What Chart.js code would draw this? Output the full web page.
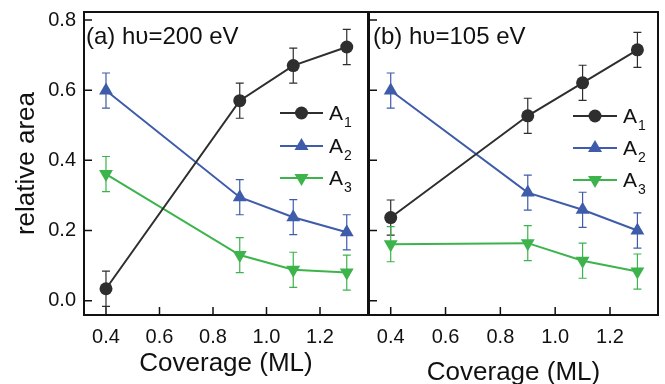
<!DOCTYPE html>
<html>
<head>
<meta charset="utf-8">
<script src="https://cdn.jsdelivr.net/npm/chart.js@4"></script>
<style>
  body { margin: 0; width: 665px; height: 384px; overflow: hidden; background: #fff; position: relative; }
  canvas { position: absolute; top: 0; }
  #left { left: 0; }
  #right { left: 356px; }
</style>
</head>
<body>
<canvas id="left" width="380" height="384"></canvas>
<canvas id="right" width="320" height="384"></canvas>
<script>
// Data
const coverage = [0.4, 0.9, 1.1, 1.3];
const xTicks = [0.4, 0.6, 0.8, 1.0, 1.2];
const yTicks = [0.0, 0.2, 0.4, 0.6, 0.8];

// (a) hv = 200 eV
const a1_200 = [0.034, 0.570, 0.670, 0.723];
const a2_200 = [0.599, 0.295, 0.238, 0.195];
const a3_200 = [0.361, 0.130, 0.088, 0.080];
// (b) hv = 105 eV
const a1_105 = [0.237, 0.527, 0.621, 0.715];
const a2_105 = [0.599, 0.308, 0.259, 0.200];
const a3_105 = [0.161, 0.164, 0.114, 0.083];
// error bars (same for every point)
const errBar = [0.05, 0.05, 0.05, 0.05];

const seriesNames = ['1', '2', '3'];
const colors = ['#2e2e2e', '#3e5ca9', '#3cb44b'];

Chart.defaults.font.family = '"Liberation Sans", Arial, sans-serif';
Chart.defaults.color = '#111';

function toPoints(vals) {
    return coverage.map((x, i) => ({ x: x, y: vals[i] }));
}

function drawMarker(ctx, style, x, y, color) {
    ctx.fillStyle = color;
    ctx.beginPath();
    if (style === 'circle') {
        ctx.arc(x, y, 6.5, 0, Math.PI * 2);
    } else if (style === 'up') {
        ctx.moveTo(x, y - 8);
        ctx.lineTo(x + 7, y + 4);
        ctx.lineTo(x - 7, y + 4);
    } else {
        ctx.moveTo(x, y + 8);
        ctx.lineTo(x + 7, y - 4);
        ctx.lineTo(x - 7, y - 4);
    }
    ctx.closePath();
    ctx.fill();
}

// frame, inward ticks, error bars, panel label and legend
const panelPlugin = {
    id: 'panel',
    beforeDatasetsDraw(chart, args, opts) {
        const ctx = chart.ctx;
        const xs = chart.scales.x, ys = chart.scales.y;
        ctx.save();
        chart.data.datasets.forEach((ds, i) => {
            ctx.strokeStyle = colors[i];
            ctx.lineWidth = 1.2;
            ds.data.forEach((p, j) => {
                const px = xs.getPixelForValue(p.x);
                const top = ys.getPixelForValue(p.y + errBar[j]);
                const bot = ys.getPixelForValue(p.y - errBar[j]);
                ctx.beginPath();
                ctx.moveTo(px, top); ctx.lineTo(px, bot);
                ctx.moveTo(px - 4, top); ctx.lineTo(px + 4, top);
                ctx.moveTo(px - 4, bot); ctx.lineTo(px + 4, bot);
                ctx.stroke();
            });
        });
        ctx.restore();
    },
    afterDraw(chart, args, opts) {
        const ctx = chart.ctx;
        const a = chart.chartArea;
        const xs = chart.scales.x, ys = chart.scales.y;
        ctx.save();
        ctx.strokeStyle = '#111';
        ctx.lineWidth = 2;
        ctx.strokeRect(a.left, a.top, a.right - a.left, a.bottom - a.top);
        ctx.lineWidth = 1.5;
        ctx.beginPath();
        xTicks.forEach(v => {
            const px = xs.getPixelForValue(v);
            ctx.moveTo(px, a.bottom); ctx.lineTo(px, a.bottom - 8);
        });
        yTicks.forEach(v => {
            const py = ys.getPixelForValue(v);
            ctx.moveTo(a.left, py); ctx.lineTo(a.left + 8, py);
        });
        ctx.stroke();

        // panel label
        ctx.fillStyle = '#111';
        ctx.font = '24px "Liberation Sans"';
        ctx.textBaseline = 'alphabetic';
        ctx.fillText(opts.label, opts.labelX, 44);

        // legend
        const styles = ['circle', 'up', 'down'];
        opts.legendRows.forEach((ry, i) => {
            ctx.strokeStyle = colors[i];
            ctx.lineWidth = 2;
            ctx.beginPath();
            ctx.moveTo(opts.legendX0, ry); ctx.lineTo(opts.legendX1, ry);
            ctx.stroke();
            drawMarker(ctx, styles[i], (opts.legendX0 + opts.legendX1) / 2, ry, colors[i]);
            ctx.fillStyle = '#111';
            ctx.font = '21px "Liberation Sans"';
            ctx.fillText('A', opts.legendX1 + 6, ry + 7);
            const w = ctx.measureText('A').width;
            ctx.font = '14px "Liberation Sans"';
            ctx.fillText(seriesNames[i], opts.legendX1 + 7 + w, ry + 14);
        });
        ctx.restore();
    }
};

function makePanel(id, series, cfg) {
    const canvas = document.getElementById(id);
    const styles = ['circle', 'triangle', 'triangle'];
    const radii = [6.5, 8, 8];
    const rotations = [0, 0, 180];
    return new Chart(canvas, {
        type: 'line',
        data: {
            datasets: series.map((vals, i) => ({
                label: 'A' + seriesNames[i],
                data: toPoints(vals),
                borderColor: colors[i],
                backgroundColor: colors[i],
                borderWidth: 2,
                pointStyle: styles[i],
                pointRadius: radii[i],
                pointRotation: rotations[i],
                pointBackgroundColor: colors[i],
                pointBorderColor: colors[i],
                pointBorderWidth: 0,
                tension: 0
            }))
        },
        plugins: [panelPlugin],
        options: {
            responsive: false,
            animation: false,
            events: [],
            layout: { padding: cfg.padding },
            plugins: {
                legend: { display: false },
                tooltip: { enabled: false },
                panel: cfg.panel
            },
            scales: {
                x: {
                    type: 'linear',
                    min: cfg.xMin,
                    max: cfg.xMax,
                    grid: { display: false, drawTicks: false },
                    border: { display: false },
                    afterBuildTicks: s => { s.ticks = xTicks.map(v => ({ value: v })); },
                    afterFit: s => { s.height = 69; s.paddingLeft = 0; s.paddingRight = 0; },
                    ticks: {
                        font: { size: 20 },
                        padding: 10,
                        callback: v => v.toFixed(1)
                    },
                    title: {
                        display: true,
                        text: 'Coverage (ML)',
                        font: { size: 26, lineHeight: 1 },
                        padding: { top: 0, bottom: cfg.titleBottom }
                    }
                },
                y: {
                    type: 'linear',
                    display: cfg.showY,
                    min: -0.0408,
                    max: 0.8228,
                    grid: { display: false, drawTicks: false },
                    border: { display: false },
                    afterBuildTicks: s => { s.ticks = yTicks.map(v => ({ value: v })); },
                    afterFit: s => { s.width = cfg.yWidth; s.paddingTop = 0; s.paddingBottom = 0; },
                    ticks: {
                        font: { size: 20 },
                        padding: 8,
                        callback: v => v.toFixed(1)
                    },
                    title: {
                        display: true,
                        text: 'relative area',
                        font: { size: 26, lineHeight: 1 },
                        padding: { top: 14, bottom: 0 }
                    }
                }
            }
        }
    });
}

makePanel('left', [a1_200, a2_200, a3_200], {
    padding: { left: 0, top: 12, right: 12, bottom: 0 },
    xMin: 0.3178, xMax: 1.3794,
    titleBottom: 7,
    showY: true,
    yWidth: 84,
    panel: { label: '(a) h\u03C5=200 eV', labelX: 86, legendX0: 280, legendX1: 323, legendRows: [113, 146, 178] }
});

makePanel('right', [a1_105, a2_105, a3_105], {
    padding: { left: 13, top: 12, right: 18, bottom: 0 },
    xMin: 0.3208, xMax: 1.3751,
    titleBottom: -2,
    showY: false,
    yWidth: 0,
    panel: { label: '(b) h\u03C5=105 eV', labelX: 17, legendX0: 217, legendX1: 261, legendRows: [116, 148, 180] }
});
</script>
</body>
</html>
